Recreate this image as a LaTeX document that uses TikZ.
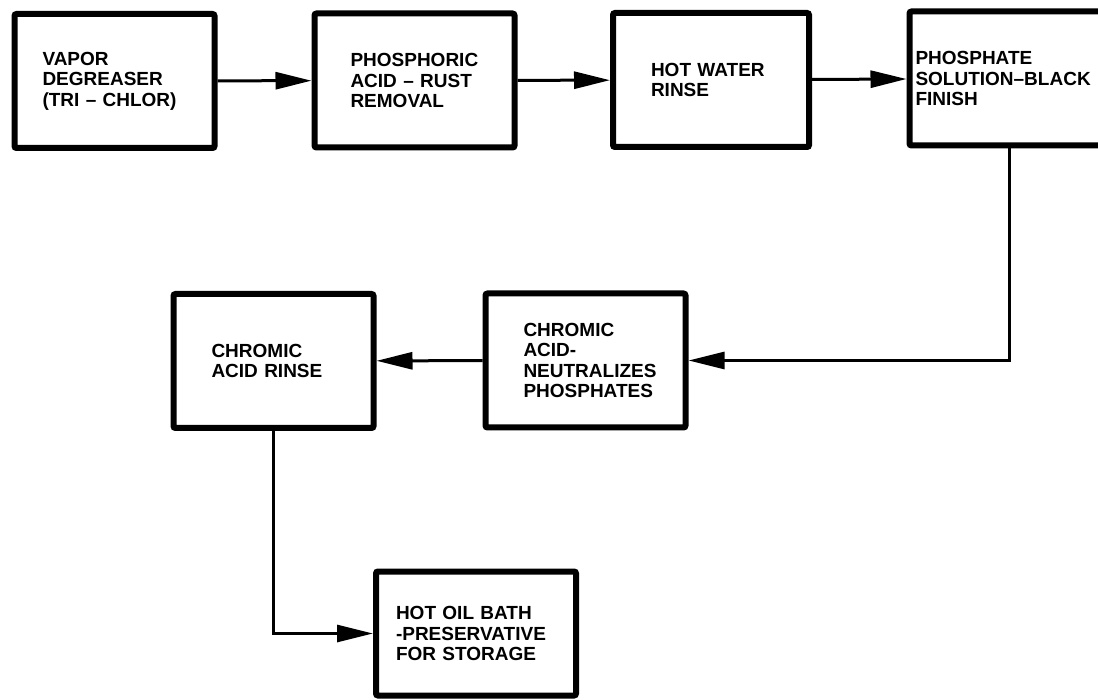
\documentclass[tikz,border=0pt]{standalone}
\usepackage{fontspec}
\setmainfont{Liberation Sans}
\usetikzlibrary{arrows.meta}

\begin{document}
\begin{tikzpicture}[x=1pt,y=-1pt,
  stage/.style={draw, line width=6pt, rounded corners=2pt, minimum width=200pt,
    minimum height=134pt, inner sep=0pt, align=left,
    font=\fontsize{19}{20.5}\selectfont\bfseries},
  flow/.style={line width=3pt, -{Triangle[length=36pt,width=17pt]}}]
\clip (0,0) rectangle (1098,700);
\fill[white] (0,0) rectangle (1098,700);

% top row
\node[stage, text width=144pt] (degreaser) at (114.5,81) {VAPOR\\DEGREASER\\(TRI – CHLOR)};
\node[stage, text width=128pt] (rustremoval) at (414.5,80.5) {PHOSPHORIC\\ACID – RUST\\REMOVAL};
\node[stage, text width=120pt, minimum width=196pt] (waterrinse) at (711,80) {HOT WATER\\RINSE};
\node[stage, text width=188pt] (blackfinish) at (1009.5,78.5) {PHOSPHATE\\SOLUTION–BLACK\\FINISH};

% middle row
\node[stage, text width=124pt] (neutralize) at (585.5,360.5) {CHROMIC\\ACID-\\NEUTRALIZES\\PHOSPHATES};
\node[stage, text width=124pt] (acidrinse) at (273.5,361) {CHROMIC\\ACID RINSE};

% bottom
\node[stage, text width=160pt, minimum height=124pt] (oilbath) at (476,633.5) {HOT OIL BATH\\-PRESERVATIVE\\FOR STORAGE};

\draw[flow] (degreaser) -- (rustremoval);
\draw[flow] (rustremoval) -- (waterrinse);
\draw[flow] (waterrinse) -- (blackfinish);
\draw[flow] (blackfinish.south) |- (neutralize.east);
\draw[flow] (neutralize) -- (acidrinse);
\draw[flow] (acidrinse.south) |- (oilbath.west);

\end{tikzpicture}
\end{document}
